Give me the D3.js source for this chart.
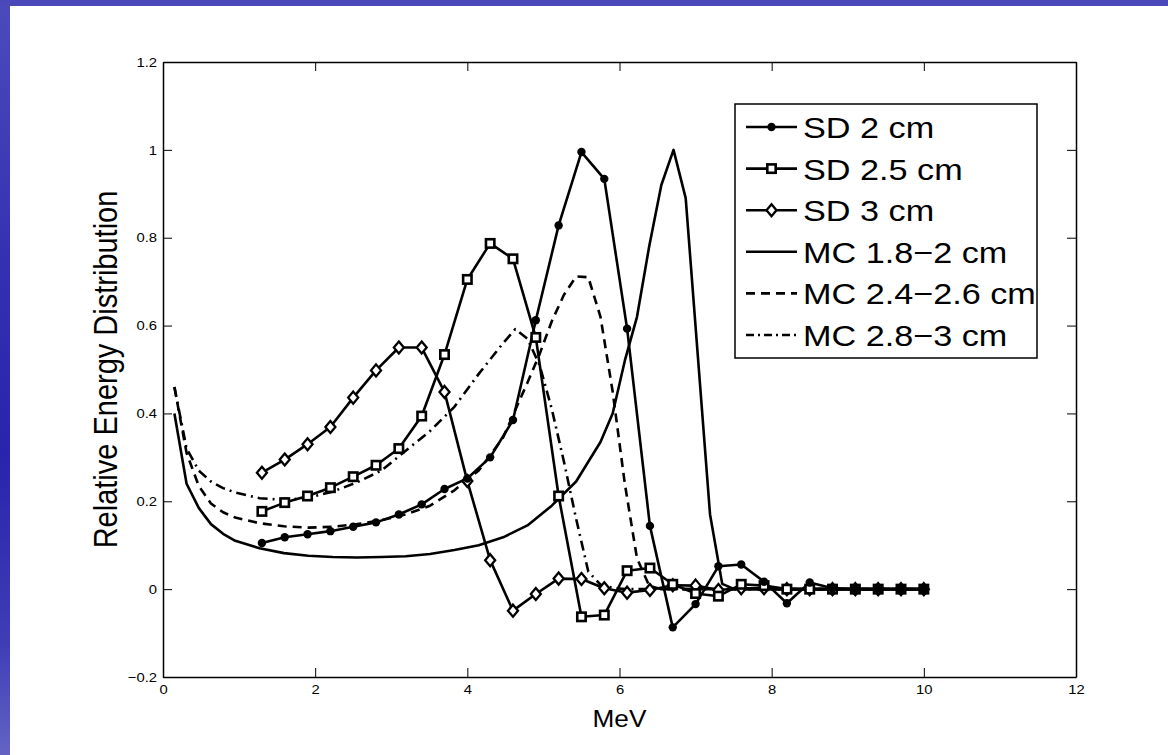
<!DOCTYPE html>
<html lang="en">
<meta charset="utf-8">
<style>
  body { margin: 0; }
  svg text { font-family: "Liberation Sans", Arial, Helvetica, sans-serif; fill: #000; }
</style>
<body>
<div id="my_dataviz"></div>

<script src="https://d3js.org/d3.v7.min.js"></script>

<script type="text/javascript">

// ---- data ----
var sdX = [1.3, 1.6, 1.9, 2.2, 2.5, 2.8, 3.1, 3.4, 3.7, 4.0, 4.3, 4.6, 4.9, 5.2, 5.5,
           5.8, 6.1, 6.4, 6.7, 7.0, 7.3, 7.6, 7.9, 8.2, 8.5, 8.8, 9.1, 9.4, 9.7, 10.0];
var sd2 = [0.105, 0.118, 0.125, 0.132, 0.142, 0.152, 0.170, 0.193, 0.228, 0.252, 0.300, 0.385, 0.612, 0.828, 0.995,
           0.934, 0.593, 0.144, -0.087, -0.034, 0.052, 0.056, 0.017, -0.032, 0.015, 0.002, 0.0, 0.0, 0.0, 0.0];
var sd25 = [0.177, 0.197, 0.212, 0.231, 0.256, 0.282, 0.320, 0.394, 0.534, 0.705, 0.787, 0.752, 0.573, 0.212, -0.063,
            -0.059, 0.042, 0.048, 0.011, -0.010, -0.016, 0.011, 0.008, 0.0, 0.0, 0.0, 0.0, 0.0, 0.0, 0.0];
var sd3 = [0.265, 0.295, 0.330, 0.369, 0.436, 0.498, 0.550, 0.550, 0.449, 0.246, 0.066, -0.049, -0.011, 0.024, 0.023,
           0.002, -0.008, -0.002, 0.009, 0.008, -0.002, 0.002, 0.002, 0.0, 0.0, 0.0, 0.0, 0.0, 0.0, 0.0];

var mc18X = [0.15, 0.31, 0.47, 0.63, 0.79, 0.95, 1.27, 1.59, 1.91, 2.23, 2.55, 2.87, 3.19, 3.51, 3.83, 4.15, 4.47,
             4.79, 5.11, 5.43, 5.59, 5.75, 5.91, 6.07, 6.23, 6.39, 6.55, 6.71, 6.87, 7.03, 7.19, 7.35, 7.51, 10.0];
var mc18Y = [0.40, 0.24, 0.185, 0.148, 0.126, 0.110, 0.093, 0.082, 0.076, 0.073, 0.072, 0.073, 0.075, 0.080, 0.089, 0.100, 0.118,
             0.145, 0.190, 0.245, 0.290, 0.335, 0.400, 0.520, 0.620, 0.780, 0.920, 1.0, 0.890, 0.530, 0.170, 0.012, 0.0, 0.0];

var mc24X = [0.15, 0.31, 0.47, 0.63, 0.79, 0.95, 1.27, 1.59, 1.91, 2.23, 2.55, 2.87, 3.19, 3.51, 3.83, 4.15, 4.47,
             4.79, 4.95, 5.11, 5.27, 5.43, 5.59, 5.75, 5.91, 6.07, 6.23, 6.39, 6.55, 10.0];
var mc24Y = [0.46, 0.31, 0.235, 0.195, 0.175, 0.163, 0.150, 0.143, 0.140, 0.142, 0.148, 0.157, 0.170, 0.190, 0.225, 0.270, 0.345,
             0.470, 0.535, 0.610, 0.670, 0.712, 0.710, 0.620, 0.450, 0.240, 0.070, 0.008, 0.0, 0.0];

var mc28X = [0.15, 0.31, 0.47, 0.63, 0.79, 0.95, 1.27, 1.59, 1.91, 2.23, 2.55, 2.87, 3.19, 3.51, 3.83, 4.15, 4.47,
             4.63, 4.79, 4.95, 5.11, 5.27, 5.43, 5.59, 5.75, 5.91, 6.07, 10.0];
var mc28Y = [0.46, 0.32, 0.27, 0.245, 0.23, 0.22, 0.207, 0.203, 0.208, 0.222, 0.243, 0.270, 0.315, 0.360, 0.415, 0.490, 0.560,
             0.592, 0.570, 0.510, 0.410, 0.290, 0.160, 0.040, 0.010, 0.003, 0.0, 0.0];

var legendLabels = ["SD 2 cm", "SD 2.5 cm", "SD 3 cm", "MC 1.8\u22122 cm", "MC 2.4\u22122.6 cm", "MC 2.8\u22123 cm"];
var xTicks = [0, 2, 4, 6, 8, 10, 12];
var yTicks = [-0.2, 0, 0.2, 0.4, 0.6, 0.8, 1, 1.2];

// ---- page / svg ----
var W = 1168, H = 755;
var svg = d3.select("#my_dataviz")
  .append("svg")
    .attr("width", W)
    .attr("height", H);

// slide background: blue strip on top and left
var grad = svg.append("defs").append("linearGradient")
  .attr("id", "bluebg").attr("x1", 0).attr("y1", 0).attr("x2", 0).attr("y2", 1);
grad.append("stop").attr("offset", "0%").attr("stop-color", "#4c4bbc");
grad.append("stop").attr("offset", "35%").attr("stop-color", "#3530b2");
grad.append("stop").attr("offset", "60%").attr("stop-color", "#2a23ad");
grad.append("stop").attr("offset", "85%").attr("stop-color", "#3f3db6");
grad.append("stop").attr("offset", "100%").attr("stop-color", "#6463c4");
svg.append("rect").attr("width", W).attr("height", H).attr("fill", "url(#bluebg)");
svg.append("rect").attr("x", 0).attr("y", 0).attr("width", W).attr("height", 6).attr("fill", "#4b49ba");
svg.append("rect").attr("x", 10).attr("y", 6).attr("width", W - 10).attr("height", H - 6).attr("fill", "#fff");

// horizontal stretch of the exported glyphs
var STRETCH = 1.14;
function stretch(sel) {
  sel.each(function() {
    var w = this.getComputedTextLength();
    d3.select(this).attr("textLength", w * STRETCH).attr("lengthAdjust", "spacingAndGlyphs");
  });
}

// ---- scales ----
var x = d3.scaleLinear().domain([0, 12]).range([163, 1076]);
var y = d3.scaleLinear().domain([-0.2, 1.2]).range([677, 62]);
var fmt = d3.format("");

// ---- axes (box with inward ticks) ----
var gx = svg.append("g")
  .attr("transform", "translate(0," + y(-0.2) + ")")
  .call(d3.axisBottom(x).tickValues(xTicks).tickFormat(fmt).tickSizeInner(-9).tickSizeOuter(0).tickPadding(8));
svg.append("g")
  .attr("transform", "translate(0," + y(1.2) + ")")
  .call(d3.axisTop(x).tickValues(xTicks).tickFormat("").tickSizeInner(-9).tickSizeOuter(0));
var gy = svg.append("g")
  .attr("transform", "translate(" + x(0) + ",0)")
  .call(d3.axisLeft(y).tickValues(yTicks).tickFormat(fmt).tickSizeInner(-9).tickSizeOuter(0).tickPadding(6));
svg.append("g")
  .attr("transform", "translate(" + x(12) + ",0)")
  .call(d3.axisRight(y).tickValues(yTicks).tickFormat("").tickSizeInner(-9).tickSizeOuter(0));

svg.selectAll(".domain").attr("stroke", "#000").attr("stroke-width", 1.5);
svg.selectAll(".tick line").attr("stroke", "#000").attr("stroke-width", 1);
gx.selectAll("text").style("font-size", "13px").call(stretch);
gy.selectAll("text").style("font-size", "13px").call(stretch);

// axis titles
svg.append("text")
  .attr("x", (x(0) + x(12)) / 2)
  .attr("y", 727)
  .attr("text-anchor", "middle")
  .style("font-size", "23px")
  .text("MeV")
  .call(stretch);

svg.append("text")
  .attr("transform", "translate(117," + ((y(-0.2) + y(1.2)) / 2) + ") scale(" + STRETCH + ",1) rotate(-90)")
  .attr("text-anchor", "middle")
  .style("font-size", "29px")
  .text("Relative Energy Distribution");

// ---- lines ----
var plot = svg.append("g");
var LW = 2.6;

function drawLine(xs, ys, dash) {
  var pts = xs.map(function(v, i) { return [v, ys[i]]; });
  plot.append("path")
    .datum(pts)
    .attr("fill", "none")
    .attr("stroke", "#000")
    .attr("stroke-width", LW)
    .attr("stroke-linejoin", "round")
    .attr("stroke-dasharray", dash)
    .attr("d", d3.line().x(function(d) { return x(d[0]); }).y(function(d) { return y(d[1]); }));
}

drawLine(mc28X, mc28Y, "10,5,2,5");
drawLine(mc24X, mc24Y, "9,6");
drawLine(mc18X, mc18Y, null);
drawLine(sdX, sd3, null);
drawLine(sdX, sd25, null);
drawLine(sdX, sd2, null);

// markers
function marker(g, kind, cx, cy) {
  if (kind === "circle") {
    g.append("circle").attr("cx", cx).attr("cy", cy).attr("r", 4.2).attr("fill", "#000");
  } else if (kind === "square") {
    g.append("rect").attr("x", cx - 4.2).attr("y", cy - 4.2).attr("width", 8.4).attr("height", 8.4)
      .attr("fill", "#fff").attr("stroke", "#000").attr("stroke-width", 2.6);
  } else {
    g.append("path").attr("d", "M" + cx + "," + (cy - 6) + "L" + (cx + 5) + "," + cy + "L" + cx + "," + (cy + 6) + "L" + (cx - 5) + "," + cy + "Z")
      .attr("fill", "#fff").attr("stroke", "#000").attr("stroke-width", 2.3);
  }
}

sdX.forEach(function(v, i) { marker(plot, "diamond", x(v), y(sd3[i])); });
sdX.forEach(function(v, i) { marker(plot, "square", x(v), y(sd25[i])); });
sdX.forEach(function(v, i) { marker(plot, "circle", x(v), y(sd2[i])); });

// ---- legend ----
var leg = svg.append("g");
leg.append("rect")
  .attr("x", 735).attr("y", 104).attr("width", 302).attr("height", 254)
  .attr("fill", "#fff").attr("stroke", "#000").attr("stroke-width", 1.5);

var legKinds = ["circle", "square", "diamond", null, null, null];
var legDash = [null, null, null, null, "9,6", "8,4,2,4"];
legendLabels.forEach(function(lab, i) {
  var cy = 127 + i * 41.6;
  leg.append("line")
    .attr("x1", 746).attr("x2", 797).attr("y1", cy).attr("y2", cy)
    .attr("stroke", "#000").attr("stroke-width", LW)
    .attr("stroke-dasharray", legDash[i]);
  if (legKinds[i]) marker(leg, legKinds[i], 771.5, cy);
  leg.append("text")
    .attr("x", 803).attr("y", cy + 11)
    .style("font-size", "30px")
    .text(lab)
    .call(stretch);
});

</script>

</body>
</html>
